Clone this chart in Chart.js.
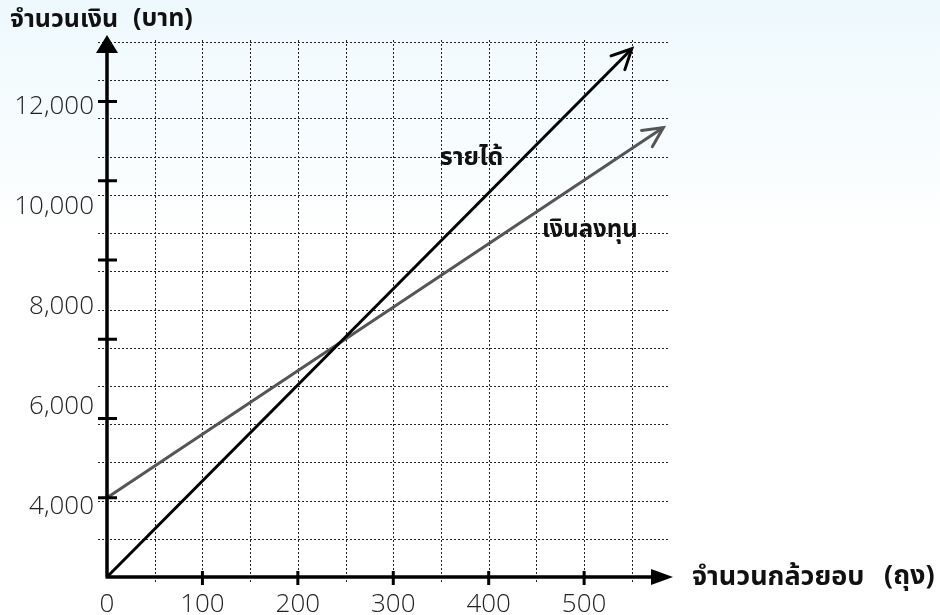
<!DOCTYPE html>
<html lang="th">
<head>
<meta charset="utf-8">
<title>รายได้และเงินลงทุน</title>
<script src="https://cdn.jsdelivr.net/npm/chart.js@4.4.1/dist/chart.umd.min.js"></script>
<style>
  html, body { margin: 0; padding: 0; }
  body { width: 940px; height: 615px; overflow: hidden; background: linear-gradient(#eef9fd, #ffffff 40%); }
  canvas { display: block; }
</style>
</head>
<body>
<canvas id="chart" width="940" height="615"></canvas>
<script>
/* ========== Data ========== */
const revenueBags = [0, 550];
const revenueBaht = [2000, 15330];
const costBags = [0, 583];
const costBaht = [4000, 13340];
const xTickLabels = [0, 100, 200, 300, 400, 500];
const yTickLabels = [4000, 6000, 8000, 10000, 12000];
const xMajorTicks = [100, 200, 300, 400, 500];
const yMajorTicks = [4000, 6000, 8000, 10000, 12000, 14000];

const FONT = "'Noto Sans Thai', 'Noto Sans', 'DejaVu Sans', sans-serif";
const NUM_FONT = "'Open Sans', 'Noto Sans', sans-serif";
const GRID = '#222';

const toPoints = (xs, ys) => xs.map((v, i) => ({ x: v, y: ys[i] }));

/* ========== Dotted grid (from the scales' own ticks) ========== */
const dottedGrid = {
  id: 'dottedGrid',
  beforeDatasetsDraw(chart) {
    const { ctx, chartArea: a, scales: { x, y } } = chart;
    ctx.save();
    ctx.strokeStyle = GRID;
    ctx.lineWidth = 1;
    ctx.setLineDash([2, 2]);
    ctx.beginPath();
    x.ticks.forEach(t => {
      if (t.value === 0) return;
      const px = Math.round(x.getPixelForValue(t.value)) + 0.5;
      ctx.moveTo(px, a.top - 2); ctx.lineTo(px, a.bottom + 5);
    });
    y.ticks.forEach(t => {
      if (t.value === 2000) return;
      const py = Math.round(y.getPixelForValue(t.value)) + 0.5;
      ctx.moveTo(a.left - 9, py); ctx.lineTo(a.right, py);
    });
    ctx.stroke();
    ctx.restore();
  }
};

/* ========== Axes, arrows, labels ========== */
const decorations = {
  id: 'decorations',
  afterDatasetsDraw(chart) {
    const { ctx, chartArea: a, scales: { x, y } } = chart;
    const ox = x.getPixelForValue(0);
    const oy = y.getPixelForValue(2000);
    ctx.save();
    ctx.strokeStyle = '#000';
    ctx.fillStyle = '#000';

    // thick tick marks
    ctx.lineWidth = 3;
    ctx.beginPath();
    yMajorTicks.forEach(v => {
      const py = y.getPixelForValue(v);
      ctx.moveTo(ox - 9, py); ctx.lineTo(ox + 10, py);
    });
    xMajorTicks.forEach(v => {
      const px = x.getPixelForValue(v);
      ctx.moveTo(px, oy - 6); ctx.lineTo(px, oy + 8);
    });
    ctx.stroke();

    // axis lines
    ctx.lineWidth = 3.5;
    ctx.beginPath();
    ctx.moveTo(ox, oy); ctx.lineTo(ox, a.top + 10);
    ctx.moveTo(ox - 1.5, oy); ctx.lineTo(a.right - 10, oy);
    ctx.stroke();

    // axis arrowheads
    ctx.beginPath();
    ctx.moveTo(ox, a.top - 7); ctx.lineTo(ox - 11, a.top + 11); ctx.lineTo(ox + 11, a.top + 11);
    ctx.closePath();
    ctx.moveTo(a.right + 3, oy); ctx.lineTo(a.right - 19, oy - 8); ctx.lineTo(a.right - 19, oy + 8);
    ctx.closePath();
    ctx.fill();

    // open arrowheads at line ends
    chart.data.datasets.forEach((ds, i) => {
      const pts = chart.getDatasetMeta(i).data;
      const p1 = pts[pts.length - 2], p2 = pts[pts.length - 1];
      const ang = Math.atan2(p2.y - p1.y, p2.x - p1.x);
      const len = 22, spread = 0.46;
      ctx.strokeStyle = ds.borderColor;
      ctx.lineWidth = 3;
      ctx.lineCap = 'round';
      ctx.beginPath();
      ctx.moveTo(p2.x - len * Math.cos(ang - spread), p2.y - len * Math.sin(ang - spread));
      ctx.lineTo(p2.x, p2.y);
      ctx.lineTo(p2.x - len * Math.cos(ang + spread), p2.y - len * Math.sin(ang + spread));
      ctx.stroke();
    });

    // series labels
    ctx.fillStyle = '#111';
    ctx.textAlign = 'center';
    ctx.textBaseline = 'middle';
    ctx.font = `bold 25px ${FONT}`;
    ctx.fillText('รายได้', x.getPixelForValue(382), y.getPixelForValue(12530));
    ctx.font = `bold 24px ${FONT}`;
    ctx.fillText('เงินลงทุน', x.getPixelForValue(506), y.getPixelForValue(10690));

    // axis titles
    ctx.textAlign = 'left';
    ctx.font = `bold 25px ${FONT}`;
    ctx.fillText('จำนวนเงิน', 10, 22);
    ctx.fillText('(บาท)', 133, 21);
    ctx.font = `bold 27px ${FONT}`;
    ctx.fillText('จำนวนกล้วยอบ', 692, oy + 3);
    ctx.fillText('(ถุง)', 884, oy + 2);
    ctx.restore();
  }
};

/* ========== Chart ========== */
new Chart(document.getElementById('chart'), {
  type: 'line',
  data: {
    datasets: [
      {
        label: 'รายได้',
        data: toPoints(revenueBags, revenueBaht),
        borderColor: '#000',
        borderWidth: 3,
        pointRadius: 0,
        clip: false
      },
      {
        label: 'เงินลงทุน',
        data: toPoints(costBags, costBaht),
        borderColor: '#555',
        borderWidth: 3,
        pointRadius: 0,
        clip: false
      }
    ]
  },
  options: {
    responsive: false,
    animation: false,
    layout: { padding: { top: 42, right: 270, left: 0, bottom: 0 } },
    plugins: { legend: { display: false }, tooltip: { enabled: false } },
    scales: {
      x: {
        type: 'linear',
        min: 0,
        max: 590,
        afterFit: s => { s.height = 38; },
        border: { display: false },
        grid: { drawOnChartArea: false, drawTicks: true, tickLength: 5, tickColor: 'rgba(0,0,0,0)' },
        ticks: {
          stepSize: 50,
          includeBounds: false,
          maxRotation: 0,
          autoSkip: false,
          padding: 7,
          color: '#222',
          font: { family: NUM_FONT, size: 26, weight: '300' },
          callback: v => xTickLabels.includes(v) ? String(v) : ''
        }
      },
      y: {
        type: 'linear',
        position: 'left',
        weight: 0,
        min: 2000,
        max: 15500,
        afterFit: s => { s.width = 10; },
        border: { display: false },
        grid: { display: false },
        ticks: { stepSize: 1000, includeBounds: false, display: false }
      },
      yl: {
        type: 'linear',
        position: 'left',
        weight: 1,
        min: 2600,
        max: 13300,
        afterFit: s => { s.width = 97; },
        afterBuildTicks: s => { s.ticks = yTickLabels.map(v => ({ value: v })); },
        border: { display: false },
        grid: { display: false, drawTicks: false },
        ticks: {
          padding: 3,
          color: '#222',
          font: { family: NUM_FONT, size: 26, weight: '300' },
          callback: v => v.toLocaleString('en-US')
        }
      }
    }
  },
  plugins: [dottedGrid, decorations]
});
</script>
</body>
</html>
